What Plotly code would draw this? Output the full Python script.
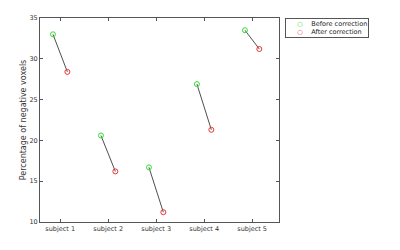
import plotly.graph_objects as go

subjects = ["subject 1", "subject 2", "subject 3", "subject 4", "subject 5"]
before = [33.0, 20.6, 16.7, 26.9, 33.5]
after = [28.4, 16.2, 11.2, 21.3, 31.2]
y_ticks = [10, 15, 20, 25, 30, 35]
series_names = ["Before correction", "After correction"]
series_colors = ["#33dd33", "#ee3333"]

offset = 0.15
pos = list(range(1, len(subjects) + 1))

fig = go.Figure()
for i, (b, a) in enumerate(zip(before, after)):
    fig.add_trace(go.Scatter(
        x=[pos[i] - offset, pos[i] + offset], y=[b, a], mode="lines",
        line=dict(color="#222222", width=0.8), showlegend=False, hoverinfo="skip"))

for vals, sign, name, col in zip([before, after], [-1, 1], series_names, series_colors):
    fig.add_trace(go.Scatter(
        x=[p + sign * offset for p in pos], y=vals, mode="markers", name=name,
        showlegend=False,
        marker=dict(symbol="circle-open", size=5, color=col, line=dict(width=1))))

legend_text = "<br>".join(
    f"&nbsp;&nbsp;&nbsp;&nbsp;&nbsp;<span style='color:{c}'>○</span>&nbsp;&nbsp;&nbsp;&nbsp;{n}"
    for n, c in zip(series_names, series_colors))
fig.add_annotation(
    xref="paper", yref="paper", x=1.025, y=1.0, xanchor="left", yanchor="top",
    text=legend_text, showarrow=False, align="left",
    font=dict(size=6.5, color="#222222", family="DejaVu Sans"),
    bordercolor="#555555", borderwidth=1, borderpad=1, bgcolor="white")

axis_common = dict(showgrid=False, zeroline=False, showline=True, linecolor="#555555",
                   linewidth=1, mirror="ticks", ticks="inside", ticklen=3,
                   tickcolor="#555555", tickfont=dict(size=6.5, color="#333333",
                   family="DejaVu Sans"))

fig.update_layout(
    width=400, height=250,
    margin=dict(l=40, r=121, t=18, b=28),
    paper_bgcolor="white", plot_bgcolor="white",
    showlegend=False,
    font=dict(family="DejaVu Sans", size=7, color="#333333"),
    xaxis=dict(range=[0.58, 5.56], tickvals=pos, ticktext=subjects, **axis_common),
    yaxis=dict(range=[10, 35], tickvals=y_ticks, title=dict(text="Percentage of negative voxels",
               font=dict(size=8, color="#333333"), standoff=1), **axis_common),
)

fig.write_html("out.html", config={"displayModeBar": False},
               post_script="document.body.style.margin='0px';")
